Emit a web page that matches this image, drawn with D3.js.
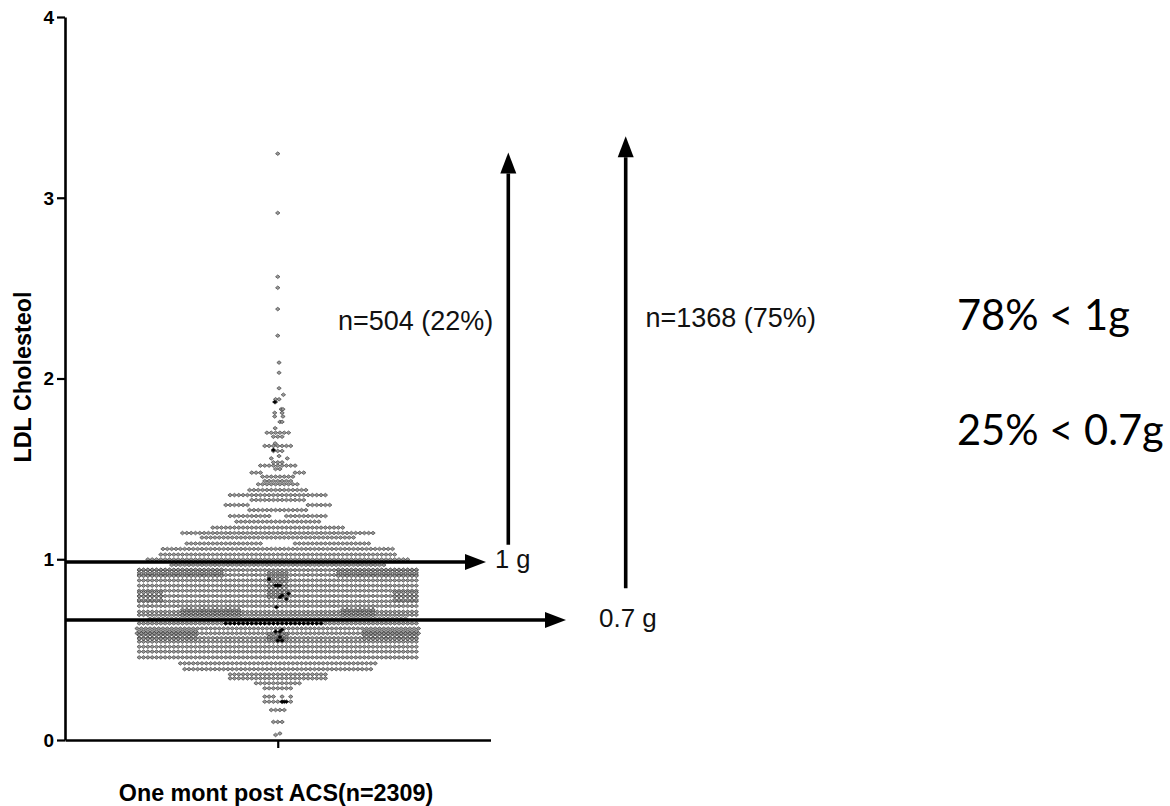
<!DOCTYPE html>
<html><head><meta charset="utf-8">
<script src="https://cdn.jsdelivr.net/npm/d3@7/dist/d3.min.js"></script>
<style>html,body{margin:0;padding:0;background:#fff}svg{display:block}</style></head>
<body><svg id="c" width="1170" height="806"></svg>
<script>
const yTicks=[0,1,2,3,4];
const yTitle="LDL Cholesteol";
const xTitle="One mont post ACS(n=2309)";
// dense rows: value, number of dots (centred)
const rowValues=[.341,.363,.392,.424,.457,.489,.516,.544,.564,.590,.617,.645,.671,.692,.710,.741,.767,.797,.826,.854,.883,.913,.940,.968,.999,1.026,1.057,1.087,1.120,1.145,1.175,1.208,1.239,1.272,1.300,1.328,1.355,1.383,1.415,1.433,1.457,1.479,1.499,1.518,1.536,1.599,1.627,1.678,1.700];
const rowCounts=[23,23,44,46,65,65,65,65,65,66,66,65,60,65,65,65,65,65,65,65,65,65,65,50,61,55,54,43,36,45,31,20,23,14,25,13,23,14,10,7,8,13,2,9,3,3,7,3,6];
// stretches of a row that stay empty
const holeValues=[1.300,1.479,1.239,1.087];
const holeFrom=[-6,-3,-1,-3];
const holeTo=[6,3,1,3];
// extra overlapping rows that make the darker patches
const patchValues=[.942,.925,.908,.942,.925,.908,.816,.795,.775,.816,.795,.775,.72,.705,.69,.72,.705,.69,.60,.58,.56,.60,.58,.56,.925,.90,.875,.85,.83,.81,.79,.585,.57,.555];
const patchFrom=[-32,-32,-32,14,14,14,-32,-32,-32,27,27,27,-22,-22,-22,15,15,15,-32,-32,-32,20,20,20,-2,-2,-2,-2,-2,-2,-2,-2,-2,-2];
const patchTo=[-13,-13,-13,32,32,32,-27,-27,-27,32,32,32,-9,-9,-9,22,22,22,-19,-19,-19,32,32,32,2,2,2,2,2,2,2,2,2,2];
// sparse points: value, slot offset from the centre (in dot widths)
const tailValues=[.028,.036,.10,.10,.10,.166,.166,.166,.166,.212,.212,.212,.212,.212,.212,.24,.24,.24,.24,.24,.286,.286,.286,.286,.286,.286,.286,.314,.314,.314,.314,.314,.314,.314,.314,.314,.314,.314,1.558,1.558,1.571,1.641,1.725,1.76,1.76,1.79,1.79,1.81,1.81,1.83,1.83,1.87,1.885,1.885,1.91,1.946,2.032,2.088,2.237,2.384,2.502,2.563,2.916,3.244];
const tailSlots=[-.5,.5,-1,0,1,-1.5,-.5,.5,1.5,-3,-2,-1,0,1,3,-3,-2,-1,1,3,-3,-2,-1,0,1,2,3,-5,-4,-3,-2,-1,0,1,2,3,4,5,-1.5,2.2,.3,-.6,-.6,.5,1,-.7,1.2,-.7,1,.8,1.2,-.5,-.5,.3,1.3,.3,.3,.3,0,0,0,0,0,0];
// overlapping (dark) points
const darkValues=[.212,.212,.212,.55,.55,.57,.60,.60,.61,.735,.78,.79,.80,.81,.855,.855,.855,.89,1.605,1.87,.645,.645,.645,.645,.645,.645,.645,.645,.645,.645,.645,.645,.645,.645,.645,.645,.645,.645,.645,.645,.645,.645,.645];
const darkSlots=[1,1.5,2,0,1,.5,-.5,.5,1,-.3,2,.5,1,2.5,-.5,0,.5,-2,-1,-.7,-12,-11,-10,-9,-8,-7,-6,-5,-4,-3,-2,-1,0,1,2,3,4,5,6,7,8,9,10];
const lineValues=[.985,.664];
const arrowTops=[3.25,3.34];
const arrowBottoms=[1.08,.84];

const svg=d3.select("#c");
const arial="'Liberation Sans',Arial,sans-serif";
const y=d3.scaleLinear().domain([0,4]).range([740,17]);
const x=d3.scaleLinear().domain([-1,1]).range([65,490.5]);
const dot=4.33/212.75; // one dot width in x-domain units
const flat={draw(c){c.moveTo(-2.2,0);c.lineTo(0,-1.8);c.lineTo(2.2,0);c.lineTo(0,1.8);c.closePath();}};
const sym=d3.symbol().type(flat);

const pts=[];
rowValues.forEach((v,i)=>{const n=rowCounts[i];for(let k=0;k<n;k++){const s=k-(n-1)/2;
  if(!holeValues.some((h,j)=>h===v&&s>=holeFrom[j]&&s<=holeTo[j]))pts.push([s,v]);}});
patchValues.forEach((v,i)=>{for(let s=patchFrom[i];s<=patchTo[i];s++)pts.push([s,v]);});
tailValues.forEach((v,i)=>pts.push([tailSlots[i],v]));
svg.append("g").selectAll("path").data(pts).join("path").attr("d",sym)
 .attr("transform",d=>`translate(${x(d[0]*dot)},${y(d[1])})`)
 .attr("fill","#999").attr("stroke","#333").attr("stroke-width",.65);
svg.append("g").selectAll("path").data(darkValues.map((v,i)=>[darkSlots[i],v])).join("path").attr("d",sym)
 .attr("transform",d=>`translate(${x(d[0]*dot)},${y(d[1])})`).attr("fill","#000").attr("stroke","#000").attr("stroke-width",.6);

// axes
const ya=d3.axisLeft(y).tickValues(yTicks).tickFormat(d3.format("d")).tickSize(8).tickSizeOuter(0);
const gy=svg.append("g").attr("transform","translate(65,0)").call(ya);
gy.select(".domain").attr("stroke","#000").attr("stroke-width",2.6);
gy.selectAll(".tick line").attr("stroke","#000").attr("stroke-width",2.2);
gy.selectAll("text").attr("font-family",arial).attr("font-weight","bold").attr("font-size",19).attr("fill","#000").attr("x",-11).attr("dy",".34em");
const xa=d3.axisBottom(x).tickValues([0]).tickFormat("").tickSize(8).tickSizeOuter(0);
const gx=svg.append("g").attr("transform","translate(0,740)").call(xa);
gx.select(".domain").attr("stroke","#000").attr("stroke-width",2.6);
gx.selectAll(".tick line").attr("stroke","#000").attr("stroke-width",2.2);
svg.append("text").attr("transform","translate(30.5,377) rotate(-90)").attr("text-anchor","middle")
 .attr("font-family",arial).attr("font-weight","bold").attr("font-size",23.4).text(yTitle);
svg.append("text").attr("x",276).attr("y",801).attr("text-anchor","middle")
 .attr("font-family",arial).attr("font-weight","bold").attr("font-size",23.3).text(xTitle);

// arrows
const ah=svg.append("g").attr("fill","#000");
function arrow(x1,y1,x2,y2){
 const a=Math.atan2(y2-y1,x2-x1),L=21,W=8;
 const bx=x2-L*Math.cos(a),by=y2-L*Math.sin(a);
 ah.append("line").attr("x1",x1).attr("y1",y1).attr("x2",bx).attr("y2",by).attr("stroke","#000").attr("stroke-width",3.6);
 ah.append("polygon").attr("points",[[x2,y2],[bx-W*Math.sin(a),by+W*Math.cos(a)],[bx+W*Math.sin(a),by-W*Math.cos(a)]].join(" "));
}
arrow(65,y(lineValues[0]),486,y(lineValues[0]));
arrow(65,y(lineValues[1]),566,y(lineValues[1]));
arrow(508.3,y(arrowBottoms[0]),508.3,y(arrowTops[0]));
arrow(625.7,y(arrowBottoms[1]),625.7,y(arrowTops[1]));

const labs=[["1 g",495,568,25.5],["0.7 g",599,627,26],["n=504 (22%)",338,330,27],["n=1368 (75%)",645.5,327,27]];
svg.append("g").selectAll("text").data(labs).join("text").attr("x",d=>d[1]).attr("y",d=>d[2])
 .attr("font-family",arial).attr("font-size",d=>d[3]).attr("fill","#111").text(d=>d[0]);
const big=[["78% < 1g",957,330],["25% < 0.7g",957,445]];
svg.append("g").selectAll("text").data(big).join("text").attr("x",d=>d[1]).attr("y",d=>d[2])
 .attr("font-family","Lato,'Open Sans',sans-serif").attr("font-size",41.6).attr("fill","#000").text(d=>d[0]);
</script></body></html>
